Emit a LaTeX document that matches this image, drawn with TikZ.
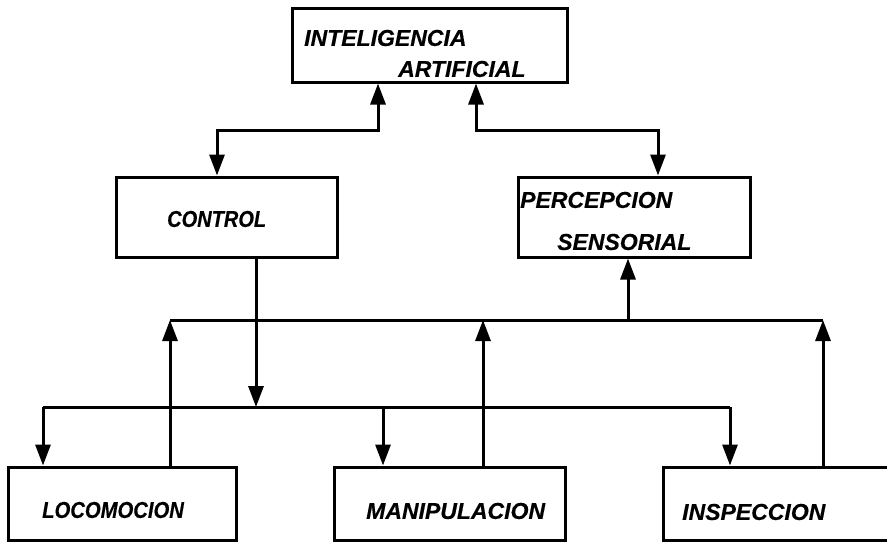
\documentclass[tikz,border=0pt]{standalone}
\usepackage{fontspec}
\setmainfont{Liberation Sans}
\newfontfamily\lblfamily[BoldItalicFeatures={FakeBold=0.4}]{Liberation Sans}
\usetikzlibrary{arrows.meta}
\begin{document}
\begin{tikzpicture}[x=1pt,y=-1pt,
  box/.style={draw, line width=3pt, inner sep=0pt, minimum height=#1},
  box/.default=73pt,
  lbl/.style={anchor=west, inner sep=0pt, font=\lblfamily\fontsize{23}{26}\selectfont\bfseries\itshape},
  conn/.style={line width=3pt},
  tip/.tip={Triangle[width=15pt,length=21pt]}]
\useasboundingbox (0,0) rectangle (887,550);
\clip (0,0) rectangle (887,550);
% boxes
\node[box=74pt, minimum width=275pt] (ia) at (429.5,45) {};
\node[box=80pt, minimum width=221pt] (ctrl) at (226.5,217) {};
\node[box=80pt, minimum width=232pt] (perc) at (634,217) {};
\node[box, minimum width=228pt] (loco) at (122,503.5) {};
\node[box, minimum width=231pt] (mani) at (449.5,503.5) {};
\node[box, minimum width=250pt] (insp) at (788,503.5) {};
% labels
\node[lbl] (t1) at (304,38) {INTELIGENCIA};
\node[lbl] (t2) at (398,69) {ARTIFICIAL};
\node[lbl] (t3) at (167,219) {\scalebox{0.87}[1]{CONTROL}};
\node[lbl] (t4) at (520,200) {PERCEPCION};
\node[lbl] (t5) at (557,242) {SENSORIAL};
\node[lbl] (t6) at (42,510) {\scalebox{0.88}[1]{LOCOMOCION}};
\node[lbl] (t7) at (366,511) {MANIPULACION};
\node[lbl] (t8) at (682,512) {INSPECCION};
% junction points
\coordinate (j1) at (378,130);
\coordinate (j2) at (217,130);
\coordinate (j3) at (476,130);
\coordinate (j4) at (658,130);
\coordinate (cd) at (256,407);
\coordinate (lowL) at (43,407);
\coordinate (lowM) at (383,407);
\coordinate (lowR) at (730,407);
\coordinate (upL) at (170,320);
\coordinate (upM) at (483,320);
\coordinate (upP) at (628,320);
\coordinate (upR) at (823,320);
% connectors
\draw[conn, tip-tip] (ia.south -| j1) -- (j1) -- (j2) -- (ctrl.north -| j2);
\draw[conn, tip-tip] (ia.south -| j3) -- (j3) -- (j4) -- (perc.north -| j4);
\draw[conn, -tip] (ctrl.south -| cd) -- (cd);
\draw[conn] (lowL) -- (lowR);
\draw[conn, -tip] (lowL) -- (loco.north -| lowL);
\draw[conn, -tip] (lowM) -- (mani.north -| lowM);
\draw[conn, -tip] (lowR) -- (insp.north -| lowR);
\draw[conn] (upL) -- (upR);
\draw[conn, -tip] (loco.north -| upL) -- (upL);
\draw[conn, -tip] (mani.north -| upM) -- (upM);
\draw[conn, -tip] (insp.north -| upR) -- (upR);
\draw[conn, -tip] (upP) -- (perc.south -| upP);
\end{tikzpicture}
\end{document}
